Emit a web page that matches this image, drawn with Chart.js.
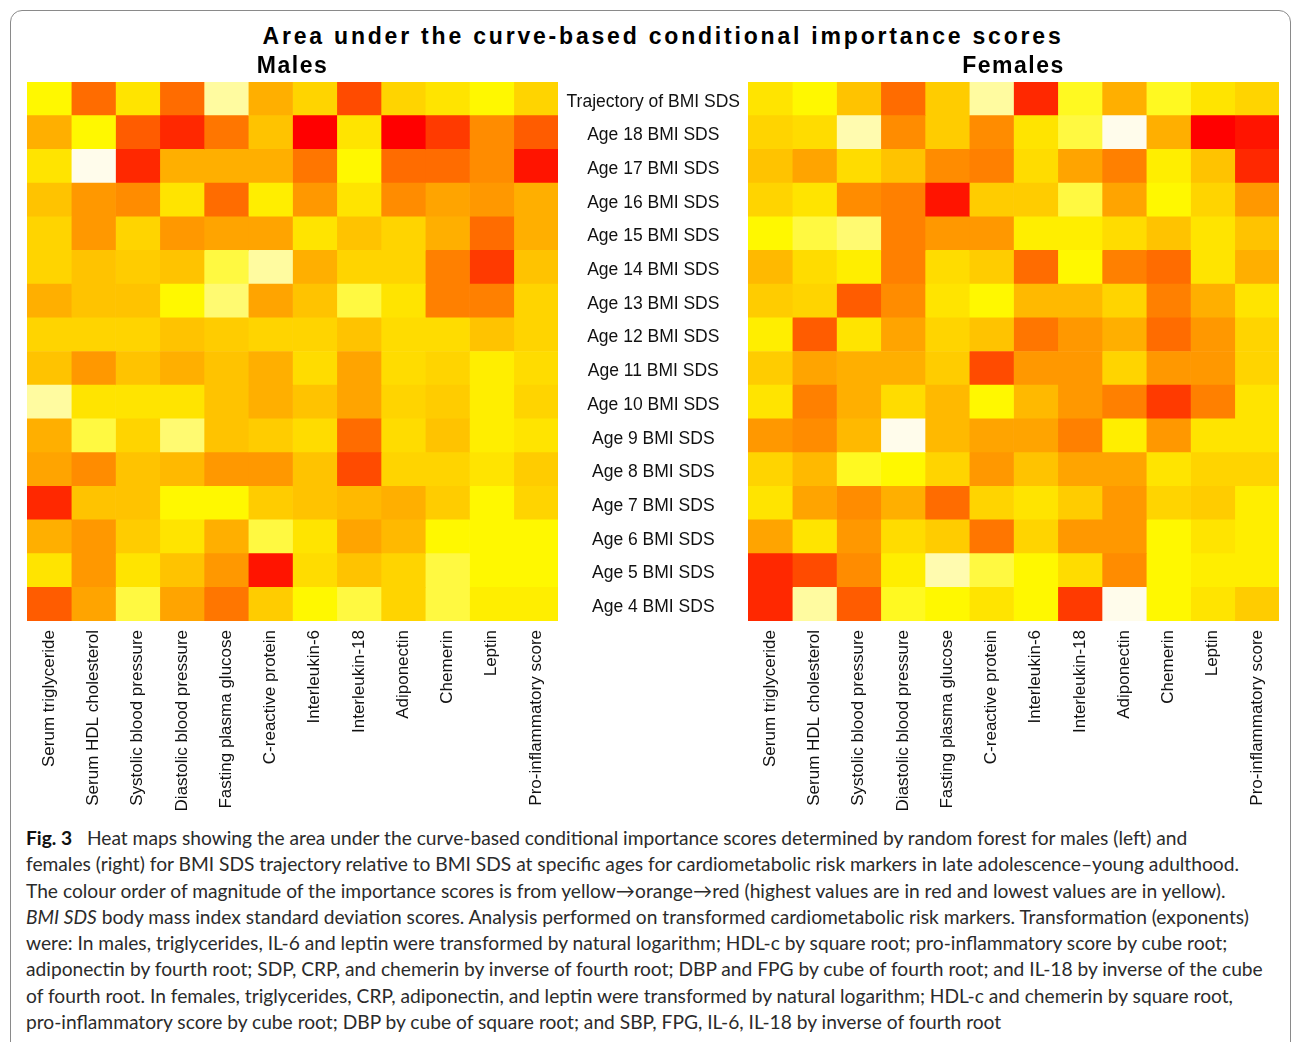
<!DOCTYPE html>
<html>
<head>
<meta charset="utf-8">
<script src="https://cdn.jsdelivr.net/npm/chart.js@4.4.1/dist/chart.umd.min.js"></script>
<style>
  body { margin: 0; background: #fff; overflow: hidden; width: 1292px; height: 1042px; position: relative; }
  .frame { position: absolute; left: 10px; top: 10px; width: 1279px; height: 1060px; border: 1.5px solid #8a8a8a; border-radius: 12px; }
  .title { position: absolute; left: 0; top: 23px; width: 1326px; text-align: center; font: bold 23px "Liberation Sans", Arial, sans-serif; letter-spacing: 2.8px; color: #000; }
  canvas { position: absolute; }
  .caption { position: absolute; left: 26px; top: 825px; font-family: Lato, sans-serif; font-size: 19.2px; line-height: 26.3px; color: #2b2b2b; white-space: nowrap; }
  .caption b { color: #111; }
</style>
</head>
<body>
<div class="frame"></div>
<div class="title">Area under the curve-based conditional importance scores</div>
<canvas id="males" width="531" height="771" style="left:27px;top:50px"></canvas>
<canvas id="females" width="721" height="771" style="left:558px;top:50px"></canvas>
<div class="caption">
<div><b>Fig. 3</b>&nbsp;&nbsp; Heat maps showing the area under the curve-based conditional importance scores determined by random forest for males (left) and</div>
<div>females (right) for BMI SDS trajectory relative to BMI SDS at specific ages for cardiometabolic risk markers in late adolescence–young adulthood.</div>
<div>The colour order of magnitude of the importance scores is from yellow→orange→red (highest values are in red and lowest values are in yellow).</div>
<div><i>BMI SDS</i> body mass index standard deviation scores. Analysis performed on transformed cardiometabolic risk markers. Transformation (exponents)</div>
<div>were: In males, triglycerides, IL-6 and leptin were transformed by natural logarithm; HDL-c by square root; pro-inflammatory score by cube root;</div>
<div>adiponectin by fourth root; SDP, CRP, and chemerin by inverse of fourth root; DBP and FPG by cube of fourth root; and IL-18 by inverse of the cube</div>
<div>of fourth root. In females, triglycerides, CRP, adiponectin, and leptin were transformed by natural logarithm; HDL-c and chemerin by square root,</div>
<div>pro-inflammatory score by cube root; DBP by cube of square root; and SBP, FPG, IL-6, IL-18 by inverse of fourth root</div>
</div>
<script>
const rowLabels = ['Trajectory of BMI SDS', 'Age 18 BMI SDS', 'Age 17 BMI SDS', 'Age 16 BMI SDS',
  'Age 15 BMI SDS', 'Age 14 BMI SDS', 'Age 13 BMI SDS', 'Age 12 BMI SDS', 'Age 11 BMI SDS',
  'Age 10 BMI SDS', 'Age 9 BMI SDS', 'Age 8 BMI SDS', 'Age 7 BMI SDS', 'Age 6 BMI SDS',
  'Age 5 BMI SDS', 'Age 4 BMI SDS'];
const markers = ['Serum triglyceride', 'Serum HDL cholesterol', 'Systolic blood pressure',
  'Diastolic blood pressure', 'Fasting plasma glucose', 'C-reactive protein', 'Interleukin-6',
  'Interleukin-18', 'Adiponectin', 'Chemerin', 'Leptin', 'Pro-inflammatory score'];

// relative importance: 0 = palest yellow ... 13 = red
const maleScores = [
  [3, 10, 4, 10, 1, 7, 5, 11, 5, 4, 3, 5],
  [7, 3, 10.5, 12, 9.5, 6, 13, 4, 13, 11.5, 8.5, 10.5],
  [4, 0, 12, 7, 7, 7, 9.5, 3, 10, 10, 8.5, 12.5],
  [6, 8, 8.5, 4, 10, 3.5, 8, 4, 8.5, 7.5, 8, 7],
  [5, 8, 5, 8, 7.5, 7.5, 4, 6, 5, 7, 10, 7],
  [5, 6, 5.5, 6, 2, 1, 7, 5, 5, 9, 11.5, 6],
  [7, 6, 6, 3, 1.5, 7.5, 6, 2, 4, 9, 9, 5],
  [5, 5, 5, 6, 5.5, 5, 5, 6, 4.5, 4.5, 6, 5],
  [6, 8, 6, 7, 6, 7, 4.5, 7.5, 4.5, 5, 3.5, 4.5],
  [1, 4, 4, 4, 6, 7, 6, 7.5, 5, 5.5, 3.5, 5],
  [7, 2, 5, 1.5, 6, 5.5, 4.5, 10, 4.5, 6, 3.5, 4],
  [7.5, 8.5, 6, 6.5, 8, 8, 6, 11, 5, 5, 4, 5.5],
  [12, 6, 6, 3, 3, 5.5, 6, 6.5, 7, 5.5, 3, 5],
  [7, 8, 5.5, 4, 7, 2, 4, 7.5, 6.5, 3, 3, 3],
  [4, 8, 4, 6, 8, 12.5, 4.5, 6, 5, 2, 3, 3],
  [10.5, 7.5, 2, 7.5, 9.5, 5.5, 3, 2, 5, 2, 3.5, 3.5]
];
const femaleScores = [
  [4, 3, 6, 10, 5.5, 1, 12, 2.5, 7, 2.5, 4, 5],
  [5, 4.5, 0.8, 8.5, 5.5, 8.5, 4, 2, 0, 7, 13, 12.5],
  [6, 7.5, 4.5, 6, 8.5, 9, 4.5, 7.5, 9, 3.5, 6, 12],
  [5, 4, 8.5, 9, 12.5, 5.5, 5.5, 2, 7.5, 3, 5, 8],
  [3, 2, 1.5, 9, 8, 8, 3.5, 3.5, 4.5, 6, 4, 6],
  [6.5, 4.5, 3.5, 9, 4.5, 5.5, 10, 3, 9, 10, 4, 7],
  [5.5, 5, 10.5, 8.5, 4, 3, 6.5, 6.5, 5, 9, 7, 4],
  [3.5, 10.5, 4, 7.5, 5, 6, 9.5, 8, 7, 10, 8, 5],
  [5.5, 7.5, 7, 7, 5.5, 11, 8, 8, 5, 8, 8, 5],
  [4, 9, 7, 4.5, 6.5, 3, 6.5, 8, 9, 11.5, 9, 4],
  [8, 8.5, 6.5, 0, 6.5, 7.5, 7.5, 9, 3.5, 8, 4, 4],
  [5, 6.5, 2.5, 3, 5, 8, 6, 7.5, 7.5, 4, 5, 5],
  [4, 7.5, 8.5, 7, 10, 5, 4, 5.5, 8, 5, 5.5, 3.5],
  [7.5, 4, 8, 4.5, 5.5, 9.5, 5, 8, 8, 3, 4, 3.5],
  [12, 11, 8.5, 3.5, 0.8, 2, 3, 4.5, 8.5, 3, 3.5, 3.5],
  [12, 1, 10.5, 2.5, 3, 4, 3, 11.5, 0, 3, 4, 5.5]
];

// yellow -> orange -> red, paling towards white at the low end
const greenStops = [[3, 248], [4, 228], [5, 212], [6, 195], [7, 175], [8, 152], [9, 128], [10, 108], [11, 75], [12, 40], [13, 0]];
const blueStops = [[0, 235], [1, 160], [2, 65], [3, 0]];
function interp(stops, v) {
  if (v <= stops[0][0]) return stops[0][1];
  for (let i = 1; i < stops.length; i++) {
    if (v <= stops[i][0]) {
      const [x0, y0] = stops[i - 1], [x1, y1] = stops[i];
      return Math.round(y0 + (y1 - y0) * (v - x0) / (x1 - x0));
    }
  }
  return stops[stops.length - 1][1];
}
function heat(v) {
  if (v <= 3) return `rgb(255,${Math.round(252 - v * 1.3)},${interp(blueStops, v)})`;
  return `rgb(255,${interp(greenStops, v)},0)`;
}

const tickFont = { family: '"Liberation Sans", Arial, sans-serif', size: 17 };
const rowFont = { family: '"Liberation Sans", Arial, sans-serif', size: 17.5 };

// "Males" / "Females" centred over the plot area rather than the whole canvas
const areaTitle = {
  id: 'areaTitle',
  afterDraw(chart, args, opts) {
    const { ctx, chartArea } = chart;
    ctx.save();
    ctx.font = 'bold 23px "Liberation Sans", Arial, sans-serif';
    ctx.letterSpacing = '1.5px';
    ctx.fillStyle = '#000';
    ctx.textAlign = 'center';
    ctx.textBaseline = 'middle';
    ctx.fillText(opts.text, (chartArea.left + chartArea.right) / 2, chartArea.top - 15);
    ctx.restore();
  }
};

function heatmap(id, scores, title, showRows) {
  return new Chart(document.getElementById(id), {
    type: 'bar',
    data: {
      labels: rowLabels,
      datasets: markers.map((m, c) => ({
        label: m,
        data: rowLabels.map(() => 1),
        backgroundColor: scores.map(row => heat(row[c])),
        borderWidth: 0
      }))
    },
    options: {
      indexAxis: 'y',
      responsive: false,
      animation: false,
      barPercentage: 1,
      categoryPercentage: 1,
      layout: { padding: { top: 32 } },
      plugins: {
        legend: { display: false },
        tooltip: { enabled: false },
        areaTitle: { text: title }
      },
      scales: {
        x: {
          stacked: true,
          min: 0,
          max: 12,
          grid: { display: false, drawTicks: false },
          border: { display: false },
          afterBuildTicks: s => { s.ticks = markers.map((m, i) => ({ value: i + 0.5 })); },
          afterFit: s => { s.height = 200; s.paddingLeft = 0; s.paddingRight = 0; },
          ticks: {
            autoSkip: false,
            minRotation: 90,
            maxRotation: 90,
            padding: 9,
            color: '#111',
            font: tickFont,
            callback: (v, i) => markers[i]
          }
        },
        y: {
          stacked: true,
          display: showRows,
          grid: { display: false, drawTicks: false },
          border: { display: false },
          afterFit: s => { if (showRows) s.width = 190; },
          ticks: { crossAlign: 'center', padding: 8, labelOffset: 3, color: '#111', font: rowFont }
        }
      }
    },
    plugins: [areaTitle]
  });
}

heatmap('males', maleScores, 'Males', false);
heatmap('females', femaleScores, 'Females', true);
</script>
</body>
</html>
